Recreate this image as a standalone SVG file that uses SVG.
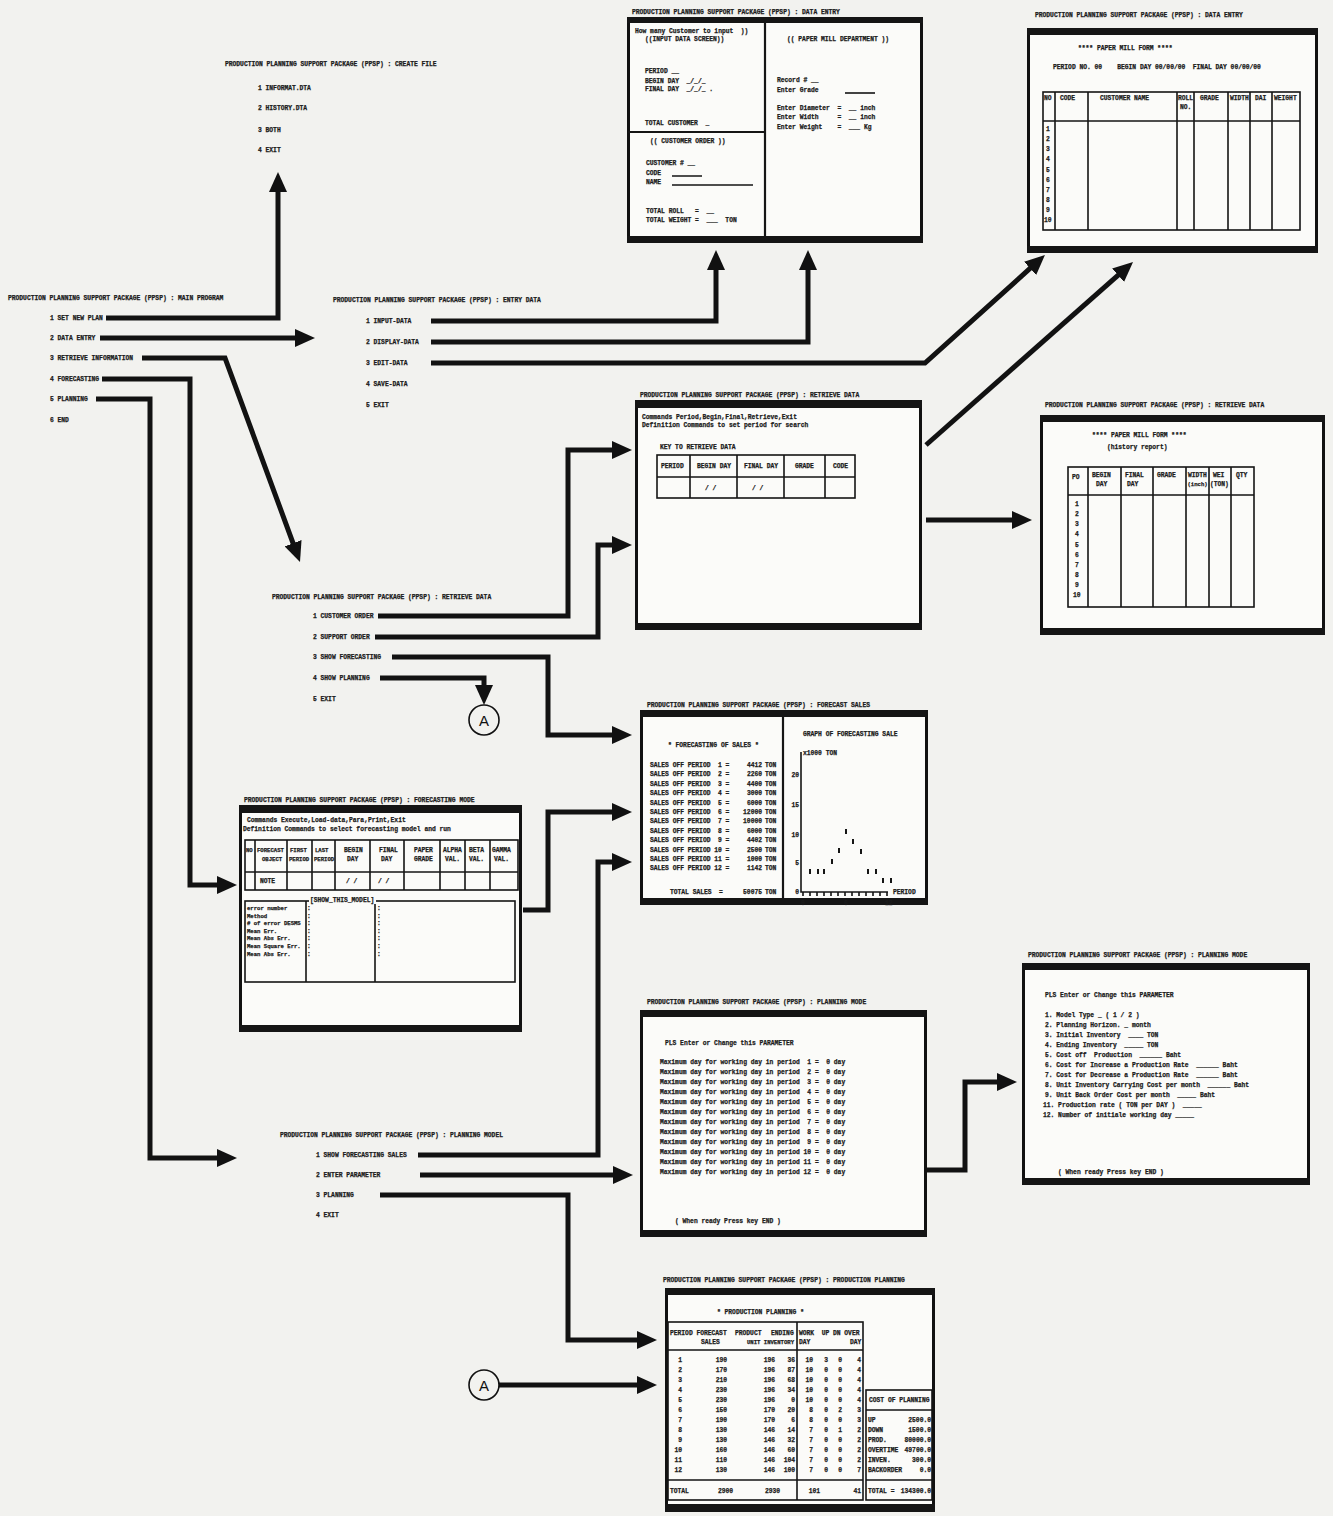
<svg xmlns="http://www.w3.org/2000/svg" width="1333" height="1516" viewBox="0 0 1333 1516">
<style>
.t{font-family:"Liberation Mono","DejaVu Sans Mono",monospace;font-size:6.3px;font-weight:bold;fill:#1b1b1b;stroke:#1b1b1b;stroke-width:0.25;white-space:pre}
.s{font-size:5.6px}
.e{text-anchor:end}
.frame{fill:#fbfbf9;stroke:#111;stroke-width:3}
.bar{fill:#151515}
.tl{fill:none;stroke:#151515;stroke-width:1.6}
.dv{fill:none;stroke:#151515;stroke-width:2.2}
.c{fill:none;stroke:#121212;stroke-width:5;stroke-linejoin:miter}
.circ{fill:none;stroke:#111;stroke-width:1.6}
.A{font-family:"Liberation Sans",Arial,sans-serif;font-size:15px;fill:#111;text-anchor:middle}
.pt{fill:#151515}
</style>
<defs>
<marker id="ah" markerUnits="userSpaceOnUse" markerWidth="20" markerHeight="18" viewBox="0 0 20 18" refX="7" refY="9" orient="auto">
<path d="M0,0 L20,9 L0,18 z" fill="#111"/>
</marker>
</defs>
<rect width="1333" height="1516" fill="#f2f2ef"/>

<!-- connectors -->
<g id="connectors">
<path class="c" marker-end="url(#ah)" d="M106,318 H278 V185"/>
<path class="c" marker-end="url(#ah)" d="M100,338 H302"/>
<path class="c" marker-end="url(#ah)" d="M142,358 H225 L295.5,549.8"/>
<path class="c" marker-end="url(#ah)" d="M102,379 H190 V885 H224"/>
<path class="c" marker-end="url(#ah)" d="M96,399 H150 V1158 H224"/>
<path class="c" marker-end="url(#ah)" d="M431,321 H716 V263"/>
<path class="c" marker-end="url(#ah)" d="M431,342 H808 V263"/>
<path class="c" marker-end="url(#ah)" d="M431,363 H925 L1035.3,263.7"/>
<path class="c" marker-end="url(#ah)" d="M926,445 L1123.3,270.6"/>
<path class="c" marker-end="url(#ah)" d="M926,520 H1019"/>
<path class="c" marker-end="url(#ah)" d="M378,616 H568 V450 H619"/>
<path class="c" marker-end="url(#ah)" d="M375,637 H598 V545 H619"/>
<path class="c" marker-end="url(#ah)" d="M392,657 H548 V735 H619"/>
<path class="c" marker-end="url(#ah)" d="M380,678 H484 V692"/>
<path class="c" marker-end="url(#ah)" d="M523,910 H548 V812 H619"/>
<path class="c" marker-end="url(#ah)" d="M418,1155 H598 V862 H619"/>
<path class="c" marker-end="url(#ah)" d="M420,1175 H620"/>
<path class="c" marker-end="url(#ah)" d="M380,1195 H568 V1340 H644"/>
<path class="c" marker-end="url(#ah)" d="M499,1385 H644"/>
<path class="c" marker-end="url(#ah)" d="M927,1170 H965 V1082 H1004"/>
</g>

<g id="connector-A-top">
<circle class="circ" cx="484" cy="720" r="15"/>
<text class="A" x="484" y="726">A</text>
</g>
<g id="connector-A-bottom">
<circle class="circ" cx="484" cy="1385" r="15"/>
<text class="A" x="484" y="1391">A</text>
</g>

<!-- menus -->
<g id="menu-create-file">
<text class="t" x="225" y="66">PRODUCTION PLANNING SUPPORT PACKAGE (PPSP) : CREATE FILE</text>
<text class="t" x="258" y="90">1 INFORMAT.DTA</text>
<text class="t" x="258" y="110">2 HISTORY.DTA</text>
<text class="t" x="258" y="132">3 BOTH</text>
<text class="t" x="258" y="152">4 EXIT</text>
</g>

<g id="menu-main-program">
<text class="t" x="8" y="300">PRODUCTION PLANNING SUPPORT PACKAGE (PPSP) : MAIN PROGRAM</text>
<text class="t" x="50" y="320">1 SET NEW PLAN</text>
<text class="t" x="50" y="340">2 DATA ENTRY</text>
<text class="t" x="50" y="360">3 RETRIEVE INFORMATION</text>
<text class="t" x="50" y="381">4 FORECASTING</text>
<text class="t" x="50" y="401">5 PLANNING</text>
<text class="t" x="50" y="422">6 END</text>
</g>

<g id="menu-entry-data">
<text class="t" x="333" y="302">PRODUCTION PLANNING SUPPORT PACKAGE (PPSP) : ENTRY DATA</text>
<text class="t" x="366" y="323">1 INPUT-DATA</text>
<text class="t" x="366" y="344">2 DISPLAY-DATA</text>
<text class="t" x="366" y="365">3 EDIT-DATA</text>
<text class="t" x="366" y="386">4 SAVE-DATA</text>
<text class="t" x="366" y="407">5 EXIT</text>
</g>

<g id="menu-retrieve-data">
<text class="t" x="272" y="599">PRODUCTION PLANNING SUPPORT PACKAGE (PPSP) : RETRIEVE DATA</text>
<text class="t" x="313" y="618">1 CUSTOMER ORDER</text>
<text class="t" x="313" y="639">2 SUPPORT ORDER</text>
<text class="t" x="313" y="659">3 SHOW FORECASTING</text>
<text class="t" x="313" y="680">4 SHOW PLANNING</text>
<text class="t" x="313" y="701">5 EXIT</text>
</g>

<g id="menu-planning-model">
<text class="t" x="280" y="1137">PRODUCTION PLANNING SUPPORT PACKAGE (PPSP) : PLANNING MODEL</text>
<text class="t" x="316" y="1157">1 SHOW FORECASTING SALES</text>
<text class="t" x="316" y="1177">2 ENTER PARAMETER</text>
<text class="t" x="316" y="1197">3 PLANNING</text>
<text class="t" x="316" y="1217">4 EXIT</text>
</g>

<!-- screen: data entry (input) -->
<g id="screen-data-entry-input">
<text class="t" x="632" y="14">PRODUCTION PLANNING SUPPORT PACKAGE (PPSP) : DATA ENTRY</text>
<rect class="frame" x="628.5" y="18.5" width="293" height="223"/>
<rect class="bar" x="627" y="17" width="296" height="6"/>
<rect class="bar" x="627" y="236" width="296" height="7"/>
<path class="dv" d="M765,23 V236 M628,132 H765"/>
<text class="t" x="635" y="33">How many Customer to input  ))</text>
<text class="t" x="645" y="41">((INPUT DATA SCREEN))</text>
<text class="t" x="645" y="73">PERIOD __</text>
<text class="t" x="645" y="83">BEGIN DAY  _/_/_</text>
<text class="t" x="645" y="91">FINAL DAY  _/_/_ .</text>
<text class="t" x="645" y="125">TOTAL CUSTOMER  _</text>
<text class="t" x="650" y="143">(( CUSTOMER ORDER ))</text>
<text class="t" x="646" y="165">CUSTOMER # __</text>
<text class="t" x="646" y="175">CODE</text>
<text class="t" x="646" y="184">NAME</text>
<path class="tl" d="M672,176 H702 M672,185 H753"/>
<text class="t" x="646" y="213">TOTAL ROLL   =  __</text>
<text class="t" x="646" y="222">TOTAL WEIGHT =  ___  TON</text>
<text class="t" x="787" y="41">(( PAPER MILL DEPARTMENT ))</text>
<text class="t" x="777" y="82">Record # __</text>
<text class="t" x="777" y="92">Enter Grade</text>
<path class="tl" d="M845,93 H875"/>
<text class="t" x="777" y="110">Enter Diameter  =  __ inch</text>
<text class="t" x="777" y="119">Enter Width     =  __ inch</text>
<text class="t" x="777" y="129">Enter Weight    =  ___ Kg</text>
</g>

<!-- screen: paper mill form -->
<g id="screen-data-entry-form">
<text class="t" x="1035" y="17">PRODUCTION PLANNING SUPPORT PACKAGE (PPSP) : DATA ENTRY</text>
<rect class="frame" x="1028.5" y="29.5" width="288" height="220"/>
<rect class="bar" x="1027" y="28" width="291" height="7"/>
<rect class="bar" x="1027" y="246" width="291" height="7"/>
<text class="t" x="1078" y="50">**** PAPER MILL FORM ****</text>
<text class="t" x="1053" y="69">PERIOD NO. 00    BEGIN DAY 00/00/00  FINAL DAY 00/00/00</text>
<rect class="tl" x="1043" y="92" width="257" height="138" stroke-width="2"/>
<path class="tl" d="M1043,121 H1300 M1055,92 V230 M1088,92 V230 M1177,92 V230 M1194,92 V230 M1228,92 V230 M1250,92 V230 M1272,92 V230"/>
<text class="t" x="1044" y="100">NO</text>
<text class="t" x="1060" y="100">CODE</text>
<text class="t" x="1100" y="100">CUSTOMER NAME</text>
<text class="t" x="1178" y="100">ROLL</text>
<text class="t" x="1180" y="109">NO.</text>
<text class="t" x="1200" y="100">GRADE</text>
<text class="t" x="1230" y="100">WIDTH</text>
<text class="t" x="1255" y="100">DAI</text>
<text class="t" x="1274" y="100">WEIGHT</text>
<text class="t" x="1046" y="131">1</text>
<text class="t" x="1046" y="141">2</text>
<text class="t" x="1046" y="151">3</text>
<text class="t" x="1046" y="161">4</text>
<text class="t" x="1046" y="172">5</text>
<text class="t" x="1046" y="182">6</text>
<text class="t" x="1046" y="192">7</text>
<text class="t" x="1046" y="202">8</text>
<text class="t" x="1046" y="212">9</text>
<text class="t" x="1044" y="222">10</text>
</g>

<!-- screen: retrieve data (key) -->
<g id="screen-retrieve-key">
<text class="t" x="640" y="397">PRODUCTION PLANNING SUPPORT PACKAGE (PPSP) : RETRIEVE DATA</text>
<rect class="frame" x="636.5" y="401.5" width="284" height="226"/>
<rect class="bar" x="635" y="400" width="287" height="8"/>
<rect class="bar" x="635" y="623" width="287" height="7"/>
<text class="t" x="642" y="419">Commands Period,Begin,Final,Retrieve,Exit</text>
<text class="t" x="642" y="427">Definition Commands to set period for search</text>
<text class="t" x="660" y="449">KEY TO RETRIEVE DATA</text>
<rect class="tl" x="657" y="455" width="198" height="43" stroke-width="2"/>
<path class="tl" d="M657,477 H855 M690,455 V498 M737,455 V498 M784,455 V498 M825,455 V498"/>
<text class="t" x="661" y="468">PERIOD</text>
<text class="t" x="697" y="468">BEGIN DAY</text>
<text class="t" x="744" y="468">FINAL DAY</text>
<text class="t" x="795" y="468">GRADE</text>
<text class="t" x="833" y="468">CODE</text>
<text class="t" x="705" y="490">/ /</text>
<text class="t" x="752" y="490">/ /</text>
</g>

<!-- screen: history report -->
<g id="screen-history-report">
<text class="t" x="1045" y="407">PRODUCTION PLANNING SUPPORT PACKAGE (PPSP) : RETRIEVE DATA</text>
<rect class="frame" x="1041.5" y="416.5" width="282" height="216"/>
<rect class="bar" x="1040" y="415" width="285" height="7"/>
<rect class="bar" x="1040" y="628" width="285" height="7"/>
<text class="t" x="1092" y="437">**** PAPER MILL FORM ****</text>
<text class="t" x="1107" y="449">(history report)</text>
<rect class="tl" x="1068" y="467" width="186" height="140" stroke-width="2"/>
<path class="tl" d="M1068,495 H1254 M1088,467 V607 M1121,467 V607 M1153,467 V607 M1186,467 V607 M1209,467 V607 M1231,467 V607"/>
<text class="t" x="1072" y="479">PO</text>
<text class="t" x="1092" y="477">BEGIN</text>
<text class="t" x="1096" y="486">DAY</text>
<text class="t" x="1125" y="477">FINAL</text>
<text class="t" x="1127" y="486">DAY</text>
<text class="t" x="1157" y="477">GRADE</text>
<text class="t" x="1188" y="477">WIDTH</text>
<text class="t s" x="1187.5" y="486">(inch)</text>
<text class="t" x="1213" y="477">WEI</text>
<text class="t" x="1210" y="486">(TON)</text>
<text class="t" x="1236" y="477">QTY</text>
<text class="t" x="1075" y="506">1</text>
<text class="t" x="1075" y="516">2</text>
<text class="t" x="1075" y="526">3</text>
<text class="t" x="1075" y="536">4</text>
<text class="t" x="1075" y="547">5</text>
<text class="t" x="1075" y="557">6</text>
<text class="t" x="1075" y="567">7</text>
<text class="t" x="1075" y="577">8</text>
<text class="t" x="1075" y="587">9</text>
<text class="t" x="1073" y="597">10</text>
</g>

<!-- screen: forecast sales -->
<g id="screen-forecast-sales">
<text class="t" x="647" y="707">PRODUCTION PLANNING SUPPORT PACKAGE (PPSP) : FORECAST SALES</text>
<rect class="frame" x="641.5" y="711.5" width="285" height="192"/>
<rect class="bar" x="640" y="710" width="288" height="7"/>
<rect class="bar" x="640" y="898" width="288" height="7"/>
<path class="dv" d="M783,717 V898"/>
<text class="t" x="668" y="747">* FORECASTING OF SALES *</text>
<text class="t" x="650" y="767">SALES OFF PERIOD  1 =</text><text class="t e" x="762" y="767">4412</text><text class="t" x="765" y="767">TON</text>
<text class="t" x="650" y="776">SALES OFF PERIOD  2 =</text><text class="t e" x="762" y="776">2260</text><text class="t" x="765" y="776">TON</text>
<text class="t" x="650" y="786">SALES OFF PERIOD  3 =</text><text class="t e" x="762" y="786">4400</text><text class="t" x="765" y="786">TON</text>
<text class="t" x="650" y="795">SALES OFF PERIOD  4 =</text><text class="t e" x="762" y="795">3000</text><text class="t" x="765" y="795">TON</text>
<text class="t" x="650" y="805">SALES OFF PERIOD  5 =</text><text class="t e" x="762" y="805">6000</text><text class="t" x="765" y="805">TON</text>
<text class="t" x="650" y="814">SALES OFF PERIOD  6 =</text><text class="t e" x="762" y="814">12000</text><text class="t" x="765" y="814">TON</text>
<text class="t" x="650" y="823">SALES OFF PERIOD  7 =</text><text class="t e" x="762" y="823">10000</text><text class="t" x="765" y="823">TON</text>
<text class="t" x="650" y="833">SALES OFF PERIOD  8 =</text><text class="t e" x="762" y="833">6000</text><text class="t" x="765" y="833">TON</text>
<text class="t" x="650" y="842">SALES OFF PERIOD  9 =</text><text class="t e" x="762" y="842">4402</text><text class="t" x="765" y="842">TON</text>
<text class="t" x="650" y="852">SALES OFF PERIOD 10 =</text><text class="t e" x="762" y="852">2500</text><text class="t" x="765" y="852">TON</text>
<text class="t" x="650" y="861">SALES OFF PERIOD 11 =</text><text class="t e" x="762" y="861">1000</text><text class="t" x="765" y="861">TON</text>
<text class="t" x="650" y="870">SALES OFF PERIOD 12 =</text><text class="t e" x="762" y="870">1142</text><text class="t" x="765" y="870">TON</text>
<text class="t" x="670" y="894">TOTAL SALES  =</text><text class="t e" x="762" y="894">50075</text><text class="t" x="765" y="894">TON</text>
<text class="t" x="803" y="736">GRAPH OF FORECASTING SALE</text>
<text class="t" x="803" y="755">x1000 TON</text>
<path class="tl" d="M801,752 V892 H888"/>
<path class="tl" stroke-width="1.2" d="M803,892 v4 M810,892 v4 M817,892 v4 M824,892 v4 M831,892 v4 M838,892 v4 M845,892 v4 M852,892 v4 M859,892 v4 M866,892 v4 M873,892 v4 M880,892 v4 M887,892 v4"/>
<text class="t e" x="799" y="777">20</text>
<text class="t e" x="799" y="807">15</text>
<text class="t e" x="799" y="837">10</text>
<text class="t e" x="799" y="865">5</text>
<text class="t e" x="799" y="894">0</text>
<text class="t" x="893" y="894">PERIOD</text>
<text class="t" x="801" y="905">0</text>
<text class="t" x="844" y="905">6</text>
<text class="t" x="885" y="905">12</text>
<rect class="pt" x="809" y="869" width="2" height="5"/>
<rect class="pt" x="817" y="869" width="2" height="5"/>
<rect class="pt" x="823" y="869" width="2" height="5"/>
<rect class="pt" x="831" y="859" width="2" height="5"/>
<rect class="pt" x="838" y="848" width="2" height="5"/>
<rect class="pt" x="845" y="829" width="2" height="5"/>
<rect class="pt" x="852" y="839" width="2" height="5"/>
<rect class="pt" x="860" y="849" width="2" height="5"/>
<rect class="pt" x="867" y="869" width="2" height="5"/>
<rect class="pt" x="875" y="869" width="2" height="5"/>
<rect class="pt" x="882" y="878" width="2" height="5"/>
<rect class="pt" x="890" y="878" width="2" height="5"/>
</g>

<!-- screen: forecasting mode -->
<g id="screen-forecasting-mode">
<text class="t" x="244" y="802">PRODUCTION PLANNING SUPPORT PACKAGE (PPSP) : FORECASTING MODE</text>
<rect class="frame" x="240.5" y="806.5" width="280" height="224"/>
<rect class="bar" x="239" y="805" width="283" height="8"/>
<rect class="bar" x="239" y="1025" width="283" height="7"/>
<text class="t" x="247" y="822">Commands Execute,Load-data,Para,Print,Exit</text>
<text class="t" x="243" y="831">Definition Commands to select forecasting model and run</text>
<rect class="tl" x="245" y="840" width="273" height="50" stroke-width="2"/>
<path class="tl" d="M245,872 H518 M255,840 V890 M287,840 V890 M312,840 V890 M335,840 V890 M370,840 V890 M404,840 V890 M440,840 V890 M465,840 V890 M490,840 V890"/>
<text class="t s" x="246" y="852">NO</text>
<text class="t s" x="257" y="852">FORECAST</text><text class="t s" x="262" y="861">OBJECT</text>
<text class="t s" x="290" y="852">FIRST</text><text class="t s" x="289" y="861">PERIOD</text>
<text class="t s" x="315" y="852">LAST</text><text class="t s" x="314" y="861">PERIOD</text>
<text class="t" x="344" y="852">BEGIN</text><text class="t" x="347" y="861">DAY</text>
<text class="t" x="379" y="852">FINAL</text><text class="t" x="381" y="861">DAY</text>
<text class="t" x="414" y="852">PAPER</text><text class="t" x="414" y="861">GRADE</text>
<text class="t" x="443" y="852">ALPHA</text><text class="t" x="445" y="861">VAL.</text>
<text class="t" x="469" y="852">BETA</text><text class="t" x="469" y="861">VAL.</text>
<text class="t" x="492" y="852">GAMMA</text><text class="t" x="494" y="861">VAL.</text>
<text class="t" x="260" y="883">NOTE</text>
<text class="t" x="346" y="883">/ /</text>
<text class="t" x="378" y="883">/ /</text>
<rect class="tl" x="245" y="901" width="270" height="81" stroke-width="2"/>
<path class="tl" d="M306,901 V982 M375,901 V982"/>
<rect x="309" y="897" width="67" height="7" fill="#fbfbf9"/>
<text class="t" x="310" y="902">[SHOW_THIS_MODEL]</text>
<text class="t s" x="247" y="910">error number</text><text class="t" x="307" y="910">:</text><text class="t" x="377" y="910">:</text>
<text class="t s" x="247" y="918">Method</text><text class="t" x="307" y="918">:</text><text class="t" x="377" y="918">:</text>
<text class="t s" x="247" y="925"># of error DESMS</text><text class="t" x="307" y="925">:</text><text class="t" x="377" y="925">:</text>
<text class="t s" x="247" y="933">Mean Err.</text><text class="t" x="307" y="933">:</text><text class="t" x="377" y="933">:</text>
<text class="t s" x="247" y="940">Mean Abs Err.</text><text class="t" x="307" y="940">:</text><text class="t" x="377" y="940">:</text>
<text class="t s" x="247" y="948">Mean Square Err.</text><text class="t" x="307" y="948">:</text><text class="t" x="377" y="948">:</text>
<text class="t s" x="247" y="956">Mean Abs Err.</text><text class="t" x="307" y="956">:</text><text class="t" x="377" y="956">:</text>
</g>

<!-- screen: planning mode (working days) -->
<g id="screen-planning-mode-days">
<text class="t" x="647" y="1004">PRODUCTION PLANNING SUPPORT PACKAGE (PPSP) : PLANNING MODE</text>
<rect class="frame" x="641.5" y="1011.5" width="284" height="224"/>
<rect class="bar" x="640" y="1010" width="287" height="7"/>
<rect class="bar" x="640" y="1230" width="287" height="7"/>
<text class="t" x="665" y="1045">PLS Enter or Change this PARAMETER</text>
<text class="t" x="660" y="1064">Maximum day for working day in period  1 =  0 day</text>
<text class="t" x="660" y="1074">Maximum day for working day in period  2 =  0 day</text>
<text class="t" x="660" y="1084">Maximum day for working day in period  3 =  0 day</text>
<text class="t" x="660" y="1094">Maximum day for working day in period  4 =  0 day</text>
<text class="t" x="660" y="1104">Maximum day for working day in period  5 =  0 day</text>
<text class="t" x="660" y="1114">Maximum day for working day in period  6 =  0 day</text>
<text class="t" x="660" y="1124">Maximum day for working day in period  7 =  0 day</text>
<text class="t" x="660" y="1134">Maximum day for working day in period  8 =  0 day</text>
<text class="t" x="660" y="1144">Maximum day for working day in period  9 =  0 day</text>
<text class="t" x="660" y="1154">Maximum day for working day in period 10 =  0 day</text>
<text class="t" x="660" y="1164">Maximum day for working day in period 11 =  0 day</text>
<text class="t" x="660" y="1174">Maximum day for working day in period 12 =  0 day</text>
<text class="t" x="675" y="1223">( When ready Press key END )</text>
</g>

<!-- screen: planning mode (parameters) -->
<g id="screen-planning-mode-params">
<text class="t" x="1028" y="957">PRODUCTION PLANNING SUPPORT PACKAGE (PPSP) : PLANNING MODE</text>
<rect class="frame" x="1023.5" y="964.5" width="285" height="219"/>
<rect class="bar" x="1022" y="963" width="288" height="7"/>
<rect class="bar" x="1022" y="1178" width="288" height="7"/>
<text class="t" x="1045" y="997">PLS Enter or Change this PARAMETER</text>
<text class="t" x="1045" y="1017">1. Model Type _ ( 1 / 2 )</text>
<text class="t" x="1045" y="1027">2. Planning Horizon. _ month</text>
<text class="t" x="1045" y="1037">3. Initial Inventory  ____ TON</text>
<text class="t" x="1045" y="1047">4. Ending Inventory  _____ TON</text>
<text class="t" x="1045" y="1057">5. Cost off  Production  ______ Baht</text>
<text class="t" x="1045" y="1067">6. Cost for Increase a Production Rate  ______ Baht</text>
<text class="t" x="1045" y="1077">7. Cost for Decrease a Production Rate  ______ Baht</text>
<text class="t" x="1045" y="1087">8. Unit Inventory Carrying Cost per month  ______ Baht</text>
<text class="t" x="1045" y="1097">9. Unit Back Order Cost per month  _____ Baht</text>
<text class="t" x="1043" y="1107">11. Production rate ( TON per DAY )  _____</text>
<text class="t" x="1043" y="1117">12. Number of initiale working day _____</text>
<text class="t" x="1058" y="1174">( When ready Press key END )</text>
</g>

<!-- screen: production planning -->
<g id="screen-production-planning">
<text class="t" x="663" y="1282">PRODUCTION PLANNING SUPPORT PACKAGE (PPSP) : PRODUCTION PLANNING</text>
<rect class="frame" x="666.5" y="1289.5" width="267" height="218"/>
<rect class="bar" x="665" y="1288" width="270" height="7"/>
<rect class="bar" x="665" y="1504" width="270" height="8"/>
<text class="t" x="717" y="1314">* PRODUCTION PLANNING *</text>
<rect class="tl" x="668" y="1322" width="195" height="178" stroke-width="2"/>
<path class="tl" d="M668,1350 H863 M668,1480 H863 M797,1322 V1500"/>
<text class="t" x="670" y="1335">PERIOD FORECAST</text>
<text class="t" x="735" y="1335">PRODUCT</text>
<text class="t" x="771" y="1335">ENDING</text>
<text class="t" x="799" y="1335">WORK  UP DN OVER</text>
<text class="t" x="701" y="1344">SALES</text>
<text class="t s" x="747" y="1344">UNIT INVENTORY</text>
<text class="t" x="799" y="1344">DAY</text>
<text class="t" x="850" y="1344">DAY</text>
<g class="rows">
<text class="t e" x="682" y="1362">1</text><text class="t e" x="727" y="1362">190</text><text class="t e" x="775" y="1362">196</text><text class="t e" x="795" y="1362">36</text><text class="t e" x="813" y="1362">10</text><text class="t e" x="828" y="1362">3</text><text class="t e" x="842" y="1362">0</text><text class="t e" x="861" y="1362">4</text>
<text class="t e" x="682" y="1372">2</text><text class="t e" x="727" y="1372">170</text><text class="t e" x="775" y="1372">196</text><text class="t e" x="795" y="1372">87</text><text class="t e" x="813" y="1372">10</text><text class="t e" x="828" y="1372">0</text><text class="t e" x="842" y="1372">0</text><text class="t e" x="861" y="1372">4</text>
<text class="t e" x="682" y="1382">3</text><text class="t e" x="727" y="1382">210</text><text class="t e" x="775" y="1382">196</text><text class="t e" x="795" y="1382">68</text><text class="t e" x="813" y="1382">10</text><text class="t e" x="828" y="1382">0</text><text class="t e" x="842" y="1382">0</text><text class="t e" x="861" y="1382">4</text>
<text class="t e" x="682" y="1392">4</text><text class="t e" x="727" y="1392">230</text><text class="t e" x="775" y="1392">196</text><text class="t e" x="795" y="1392">34</text><text class="t e" x="813" y="1392">10</text><text class="t e" x="828" y="1392">0</text><text class="t e" x="842" y="1392">0</text><text class="t e" x="861" y="1392">4</text>
<text class="t e" x="682" y="1402">5</text><text class="t e" x="727" y="1402">230</text><text class="t e" x="775" y="1402">196</text><text class="t e" x="795" y="1402">0</text><text class="t e" x="813" y="1402">10</text><text class="t e" x="828" y="1402">0</text><text class="t e" x="842" y="1402">0</text><text class="t e" x="861" y="1402">4</text>
<text class="t e" x="682" y="1412">6</text><text class="t e" x="727" y="1412">150</text><text class="t e" x="775" y="1412">170</text><text class="t e" x="795" y="1412">20</text><text class="t e" x="813" y="1412">8</text><text class="t e" x="828" y="1412">0</text><text class="t e" x="842" y="1412">2</text><text class="t e" x="861" y="1412">3</text>
<text class="t e" x="682" y="1422">7</text><text class="t e" x="727" y="1422">190</text><text class="t e" x="775" y="1422">170</text><text class="t e" x="795" y="1422">6</text><text class="t e" x="813" y="1422">8</text><text class="t e" x="828" y="1422">0</text><text class="t e" x="842" y="1422">0</text><text class="t e" x="861" y="1422">3</text>
<text class="t e" x="682" y="1432">8</text><text class="t e" x="727" y="1432">130</text><text class="t e" x="775" y="1432">146</text><text class="t e" x="795" y="1432">14</text><text class="t e" x="813" y="1432">7</text><text class="t e" x="828" y="1432">0</text><text class="t e" x="842" y="1432">1</text><text class="t e" x="861" y="1432">2</text>
<text class="t e" x="682" y="1442">9</text><text class="t e" x="727" y="1442">130</text><text class="t e" x="775" y="1442">146</text><text class="t e" x="795" y="1442">32</text><text class="t e" x="813" y="1442">7</text><text class="t e" x="828" y="1442">0</text><text class="t e" x="842" y="1442">0</text><text class="t e" x="861" y="1442">2</text>
<text class="t e" x="682" y="1452">10</text><text class="t e" x="727" y="1452">160</text><text class="t e" x="775" y="1452">146</text><text class="t e" x="795" y="1452">60</text><text class="t e" x="813" y="1452">7</text><text class="t e" x="828" y="1452">0</text><text class="t e" x="842" y="1452">0</text><text class="t e" x="861" y="1452">2</text>
<text class="t e" x="682" y="1462">11</text><text class="t e" x="727" y="1462">110</text><text class="t e" x="775" y="1462">146</text><text class="t e" x="795" y="1462">104</text><text class="t e" x="813" y="1462">7</text><text class="t e" x="828" y="1462">0</text><text class="t e" x="842" y="1462">0</text><text class="t e" x="861" y="1462">2</text>
<text class="t e" x="682" y="1472">12</text><text class="t e" x="727" y="1472">130</text><text class="t e" x="775" y="1472">146</text><text class="t e" x="795" y="1472">100</text><text class="t e" x="813" y="1472">7</text><text class="t e" x="828" y="1472">0</text><text class="t e" x="842" y="1472">0</text><text class="t e" x="861" y="1472">7</text>
</g>
<text class="t" x="670" y="1493">TOTAL</text>
<text class="t e" x="733" y="1493">2900</text>
<text class="t e" x="780" y="1493">2930</text>
<text class="t e" x="820" y="1493">101</text>
<text class="t e" x="861" y="1493">41</text>
<rect class="tl" x="866" y="1390" width="66" height="110" stroke-width="2"/>
<path class="tl" d="M866,1410 H932 M866,1480 H932"/>
<text class="t" x="869" y="1402">COST OF PLANNING</text>
<text class="t" x="868" y="1422">UP</text><text class="t e" x="931" y="1422">2500.0</text>
<text class="t" x="868" y="1432">DOWN</text><text class="t e" x="931" y="1432">1500.0</text>
<text class="t" x="868" y="1442">PROD.</text><text class="t e" x="931" y="1442">80000.0</text>
<text class="t" x="868" y="1452">OVERTIME</text><text class="t e" x="931" y="1452">49700.0</text>
<text class="t" x="868" y="1462">INVEN.</text><text class="t e" x="931" y="1462">300.0</text>
<text class="t" x="868" y="1472">BACKORDER</text><text class="t e" x="931" y="1472">0.0</text>
<text class="t" x="868" y="1493">TOTAL =</text><text class="t e" x="931" y="1493">134300.0</text>
</g>
</svg>
